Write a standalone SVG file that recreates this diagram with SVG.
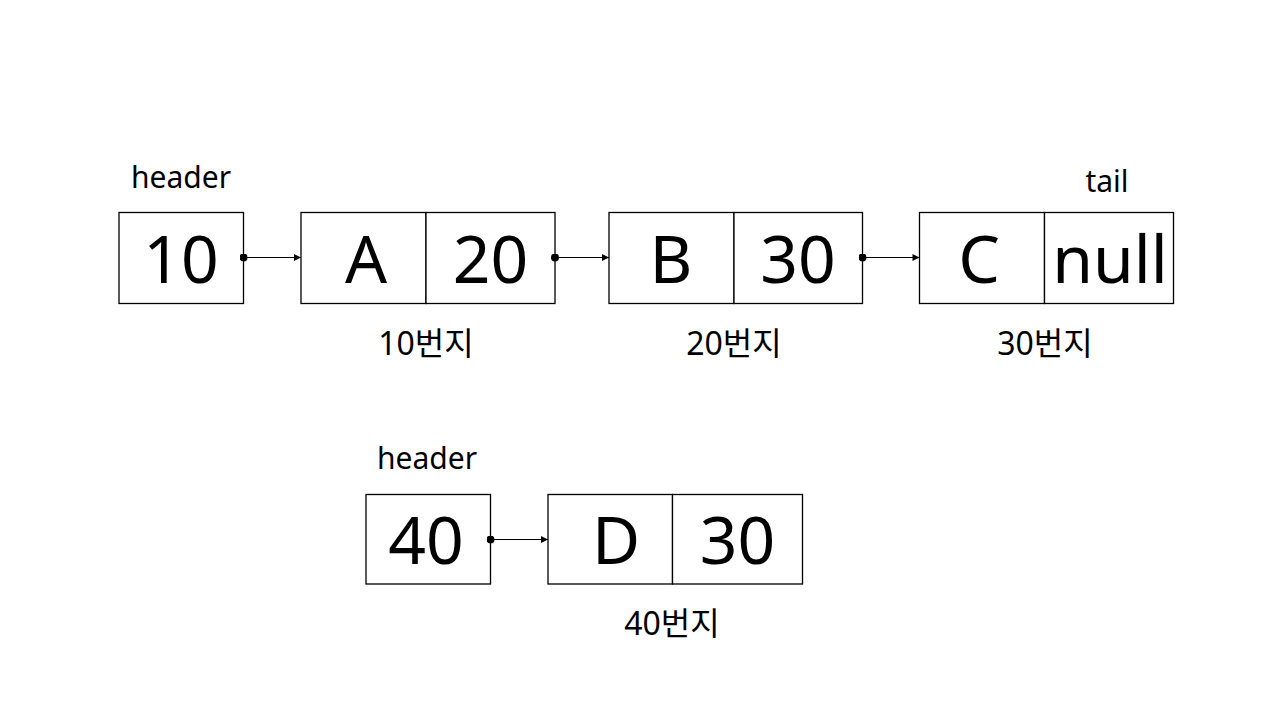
<svg xmlns="http://www.w3.org/2000/svg" width="1280" height="720" viewBox="0 0 1280 720">
<style>
.box{fill:#fff;stroke:#000;stroke-width:1.3}
.big{font-family:'Noto Sans','Noto Sans CJK KR',sans-serif;font-size:66px;fill:#000;text-anchor:middle}
.lbl{font-family:'Noto Sans','Noto Sans CJK KR',sans-serif;font-size:30px;fill:#000;text-anchor:middle}
.addr{font-family:'Noto Sans','Noto Sans CJK KR',sans-serif;font-size:32px;fill:#000;text-anchor:middle}
.con{stroke:#000;stroke-width:1.2;fill:none;marker-end:url(#ah);marker-start:url(#dot)}
</style>
<defs>
<marker id="ah" viewBox="0 0 10 10" refX="10" refY="5" markerWidth="9" markerHeight="7" markerUnits="userSpaceOnUse" orient="auto">
<path d="M0,0 L10,5 L0,10 z" fill="#000"/>
</marker>
<marker id="dot" viewBox="0 0 10 10" refX="5" refY="5" markerWidth="8" markerHeight="8" markerUnits="userSpaceOnUse">
<circle cx="5" cy="5" r="5" fill="#000"/>
</marker>
</defs>
<rect width="1280" height="720" fill="#fff"/>
<g id="header1">
<text class="lbl" x="181" y="188">header</text>
<rect class="box" x="119" y="212.5" width="124.5" height="91"/>
<text class="big" x="181" y="283">10</text>
</g>
<g id="nodeA">
<rect class="box" x="301" y="212.5" width="125" height="91"/>
<rect class="box" x="426" y="212.5" width="129" height="91"/>
<text class="big" x="366" y="283">A</text>
<text class="big" x="490.5" y="283">20</text>
<text class="addr" x="426" y="355">10번지</text>
</g>
<g id="nodeB">
<rect class="box" x="609" y="212.5" width="125" height="91"/>
<rect class="box" x="734" y="212.5" width="128.5" height="91"/>
<text class="big" x="671" y="283">B</text>
<text class="big" x="798" y="283">30</text>
<text class="addr" x="734" y="355">20번지</text>
</g>
<g id="nodeC">
<rect class="box" x="919.5" y="212.5" width="125" height="91"/>
<rect class="box" x="1044.5" y="212.5" width="129" height="91"/>
<text class="big" x="979" y="283">C</text>
<text class="big" x="1110" y="283">null</text>
<text class="lbl" x="1107" y="192">tail</text>
<text class="addr" x="1045" y="355">30번지</text>
</g>
<g id="header2">
<text class="lbl" x="427" y="469">header</text>
<rect class="box" x="366" y="494.5" width="124.5" height="89.5"/>
<text class="big" x="426" y="564">40</text>
</g>
<g id="nodeD">
<rect class="box" x="548" y="494.5" width="124.5" height="89.5"/>
<rect class="box" x="672.5" y="494.5" width="130" height="89.5"/>
<text class="big" x="616" y="564">D</text>
<text class="big" x="737.5" y="564">30</text>
<text class="addr" x="672" y="635">40번지</text>
</g>
<g id="connectors">
<path class="con" d="M243.5,257.5 H301"/>
<path class="con" d="M555,257.5 H609"/>
<path class="con" d="M862.5,257.5 H919.5"/>
<path class="con" d="M490.5,539.5 H548"/>
</g>
</svg>
